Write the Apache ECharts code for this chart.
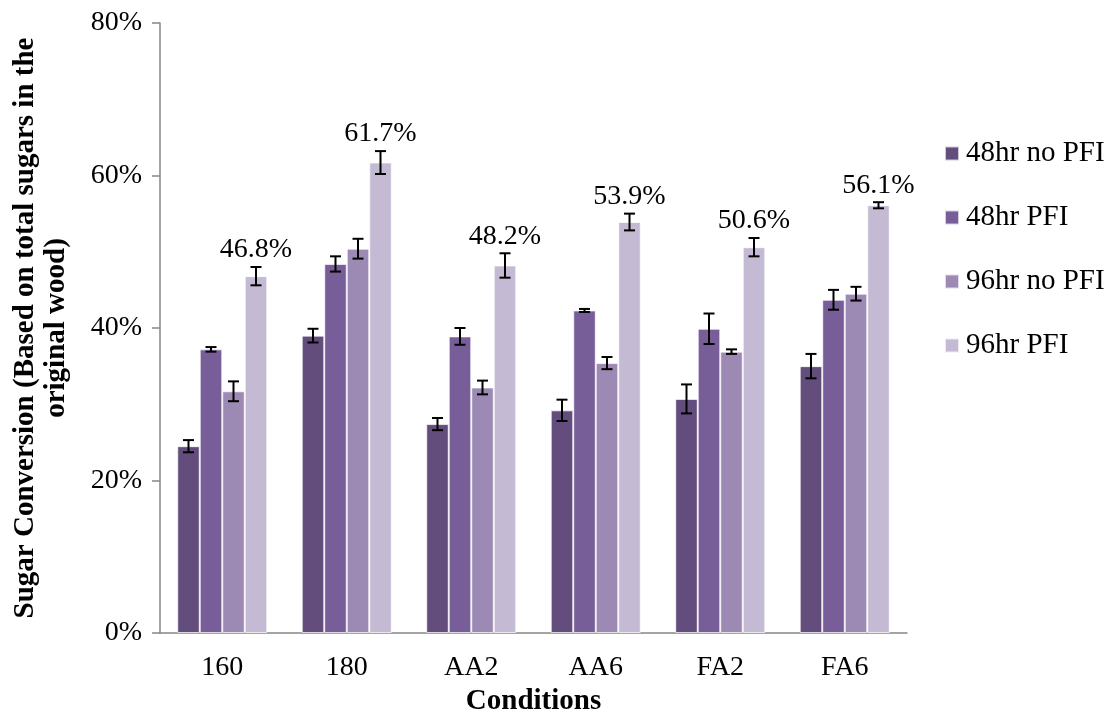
<!DOCTYPE html>
<html>
<head>
<meta charset="utf-8">
<script src="https://cdn.jsdelivr.net/npm/echarts@6/dist/echarts.min.js"></script>
<style>
  html, body { margin: 0; padding: 0; background: #fff; }
  #chart { width: 1104px; height: 723px; }
</style>
</head>
<body>
<div id="chart"></div>
<script>
// Sugar conversion (% of total sugars in original wood) by pretreatment condition
const categories = ['160', '180', 'AA2', 'AA6', 'FA2', 'FA6'];
const seriesNames = ['48hr no PFI', '48hr PFI', '96hr no PFI', '96hr PFI'];

const conv48NoPFI = [24.5, 39.0, 27.4, 29.2, 30.7, 35.0];
const conv48PFI   = [37.2, 48.4, 38.9, 42.3, 39.9, 43.7];
const conv96NoPFI = [31.7, 50.4, 32.2, 35.4, 36.9, 44.5];
const conv96PFI   = [46.8, 61.7, 48.2, 53.9, 50.6, 56.1];

// standard deviations (± percentage points)
const err48NoPFI = [0.8, 0.9, 0.8, 1.4, 1.9, 1.6];
const err48PFI   = [0.3, 1.0, 1.1, 0.2, 2.0, 1.3];
const err96NoPFI = [1.3, 1.3, 0.9, 0.8, 0.3, 0.9];
const err96PFI   = [1.2, 1.5, 1.6, 1.1, 1.2, 0.4];

const yTicks = [0, 20, 40, 60, 80];

const values = [conv48NoPFI, conv48PFI, conv96NoPFI, conv96PFI];
const errors = [err48NoPFI, err48PFI, err96NoPFI, err96PFI];
const colors = ['#634D7D', '#775E98', '#9C89B4', '#C4BAD3'];
const labelled = [false, false, false, true];

const FONT = '"Liberation Serif", "Times New Roman", serif';
const BAR_GAP = '0%';
const CAT_GAP = '27.7%';

const barSeries = values.map((vals, i) => ({
  name: seriesNames[i],
  type: 'bar',
  data: vals,
  barGap: BAR_GAP,
  barCategoryGap: CAT_GAP,
  itemStyle: { color: colors[i], borderColor: 'rgba(255,255,255,0.7)', borderWidth: 1 },
  emphasis: { disabled: true },
  z: 2
}));

// error bars (and the value label on the 96hr PFI bars) drawn with custom series
const errorSeries = values.map((vals, i) => ({
  name: seriesNames[i] + ' error',
  type: 'custom',
  data: vals.map((v, k) => [k, v, errors[i][k]]),
  encode: { x: 0, y: 1 },
  z: 5,
  silent: true,
  renderItem: function (params, api) {
    const k = api.value(0);
    const v = api.value(1);
    const e = api.value(2);
    const layout = api.barLayout({ barGap: BAR_GAP, barCategoryGap: CAT_GAP, count: 4 });
    const base = api.coord([k, v]);
    const x = base[0] + layout[i].offsetCenter;
    const yHi = api.coord([k, v + e])[1];
    const yLo = api.coord([k, v - e])[1];
    const cap = 5.5;
    const style = { stroke: '#000', lineWidth: 2 };
    const children = [
      { type: 'line', shape: { x1: x, y1: yHi, x2: x, y2: yLo }, style: style },
      { type: 'line', shape: { x1: x - cap, y1: yHi, x2: x + cap, y2: yHi }, style: style },
      { type: 'line', shape: { x1: x - cap, y1: yLo, x2: x + cap, y2: yLo }, style: style }
    ];
    if (labelled[i]) {
      children.push({
        type: 'text',
        style: {
          x: x, y: yHi - 3,
          text: v.toFixed(1) + '%',
          align: 'center', verticalAlign: 'bottom',
          font: '28px ' + FONT, fill: '#000'
        }
      });
    }
    return { type: 'group', children: children };
  }
}));

const chart = echarts.init(document.getElementById('chart'), null, { renderer: 'canvas' });
chart.setOption({
  animation: false,
  backgroundColor: '#fff',
  textStyle: { fontFamily: FONT },
  grid: { left: 160, right: 197, top: 23, bottom: 90, containLabel: false, outerBoundsMode: 'none' },
  legend: {
    data: seriesNames,
    orient: 'vertical',
    left: 939,
    top: 134,
    itemWidth: 14,
    itemHeight: 14,
    itemGap: 35,
    icon: 'rect',
    selectedMode: false,
    textStyle: { fontFamily: FONT, fontSize: 29, color: '#000', padding: [0, 0, 0, 2] }
  },
  xAxis: {
    type: 'category',
    data: categories,
    name: 'Conditions',
    nameLocation: 'middle',
    nameGap: 51,
    nameTextStyle: { fontFamily: FONT, fontSize: 29, fontWeight: 'bold', color: '#000' },
    axisLine: { lineStyle: { color: '#868686', width: 1.5 } },
    axisTick: { show: false },
    axisLabel: { fontFamily: FONT, fontSize: 28, color: '#000', margin: 21 }
  },
  yAxis: {
    type: 'value',
    min: yTicks[0],
    max: yTicks[yTicks.length - 1],
    interval: yTicks[1] - yTicks[0],
    name: 'Sugar Conversion (Based on total sugars in the\noriginal wood)',
    nameLocation: 'middle',
    nameRotate: 90,
    nameGap: 88,
    nameTextStyle: { fontFamily: FONT, fontSize: 29, fontWeight: 'bold', color: '#000', lineHeight: 31 },
    axisLine: { show: true, lineStyle: { color: '#868686', width: 1.5 } },
    axisTick: { show: true, length: 8, lineStyle: { color: '#868686', width: 1.5 } },
    splitLine: { show: false },
    axisLabel: { fontFamily: FONT, fontSize: 28, color: '#000', margin: 18, formatter: '{value}%' }
  },
  series: barSeries.concat(errorSeries)
});
</script>
</body>
</html>
